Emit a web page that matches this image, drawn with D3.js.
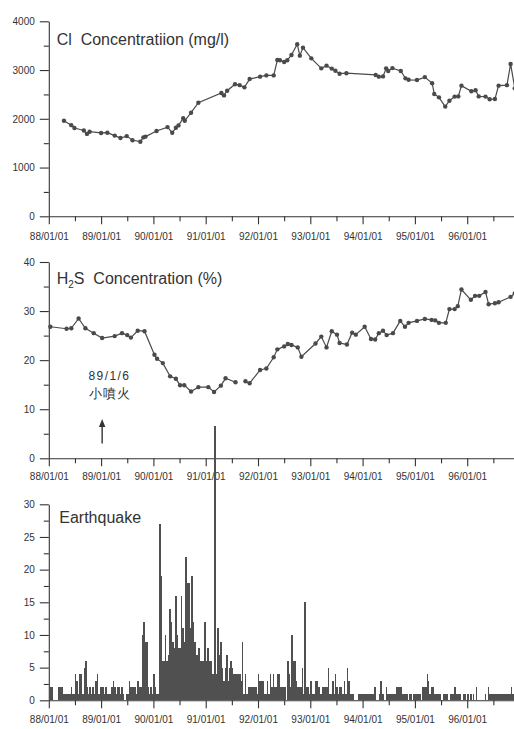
<!DOCTYPE html>
<html><head><meta charset="utf-8">
<script src="https://cdn.jsdelivr.net/npm/d3@7"></script>
<style>
body{margin:0;background:#fff}
svg{display:block}
text{font-family:"Liberation Sans",Arial,sans-serif}
</style>
</head><body>
<svg id="chart" width="514" height="729"></svg>
<script>
// ---------- data ----------
const xTickYears  = [1988,1989,1990,1991,1992,1993,1994,1995,1996];
const xTickLabels = ["88/01/01","89/01/01","90/01/01","91/01/01","92/01/01","93/01/01","94/01/01","95/01/01","96/01/01"];
const xMinorYears = [1988.5,1989.5,1990.5,1991.5,1992.5,1993.5,1994.5,1995.5,1996.5];

const clTicks  = [0,1000,2000,3000,4000];
const clMinor  = [500,1500,2500,3500];
const h2sTicks = [0,10,20,30,40];
const h2sMinor = [5,15,25,35];
const eqTicks  = [0,5,10,15,20,25,30];
const eqMinor  = [2.5,7.5,12.5,17.5,22.5,27.5];

const clYear = [1988.29,1988.43,1988.49,1988.67,1988.73,1988.78,1989.00,1989.12,1989.26,1989.37,1989.49,1989.60,1989.75,1989.81,1989.85,
  1990.06,1990.27,1990.36,1990.43,1990.48,1990.57,1990.60,1990.72,1990.86,1991.30,1991.35,1991.41,1991.56,1991.65,1991.74,1991.84,
  1992.04,1992.16,1992.30,1992.37,1992.42,1992.50,1992.56,1992.64,1992.75,1992.80,1992.86,1993.02,1993.21,1993.31,1993.41,1993.48,1993.56,1993.69,
  1994.25,1994.31,1994.39,1994.45,1994.49,1994.57,1994.73,1994.82,1994.88,1995.04,1995.19,1995.33,1995.37,1995.46,1995.58,1995.66,1995.76,1995.83,1995.89,
  1996.08,1996.16,1996.22,1996.35,1996.43,1996.53,1996.60,1996.76,1996.83,1996.91];
const clValue = [1960,1870,1810,1760,1690,1735,1710,1715,1655,1605,1645,1560,1530,1620,1635,
  1750,1830,1715,1815,1865,2010,1960,2125,2330,2530,2480,2575,2710,2690,2645,2815,
  2865,2890,2890,3205,3200,3165,3200,3310,3530,3295,3460,3240,3035,3090,3030,2985,2925,2935,
  2900,2865,2870,3035,2980,3040,2980,2830,2800,2795,2855,2730,2510,2440,2250,2370,2455,2460,2680,
  2565,2585,2460,2455,2400,2405,2680,2690,3125,2625];

const h2sYear = [1988.03,1988.34,1988.43,1988.57,1988.70,1988.86,1989.02,1989.26,1989.40,1989.50,1989.57,1989.70,1989.83,
  1990.02,1990.07,1990.18,1990.32,1990.43,1990.51,1990.59,1990.72,1990.86,1991.05,1991.16,1991.29,1991.38,1991.57,1991.66,1991.76,1991.84,
  1992.04,1992.16,1992.30,1992.37,1992.50,1992.57,1992.64,1992.76,1992.83,1993.10,1993.21,1993.31,1993.41,1993.51,1993.56,1993.70,1993.80,1993.87,
  1994.04,1994.16,1994.24,1994.31,1994.39,1994.46,1994.58,1994.72,1994.81,1994.88,1995.04,1995.19,1995.32,1995.39,1995.46,1995.59,1995.66,1995.76,1995.82,1995.89,
  1996.07,1996.15,1996.23,1996.35,1996.41,1996.53,1996.60,1996.83,1996.91];
const h2sValue = [26.8,26.4,26.5,28.5,26.5,25.5,24.5,24.9,25.5,25.1,24.6,26.0,25.9,
  21.1,20.3,19.4,16.7,16.2,14.9,14.9,13.6,14.5,14.5,13.5,14.8,16.3,15.5,null,15.7,15.3,
  18.0,18.3,20.6,22.2,22.8,23.3,23.1,22.6,20.7,23.4,24.8,22.6,25.9,25.2,23.5,23.2,25.6,25.2,
  26.8,24.3,24.2,25.5,26.0,25.1,25.5,28.0,26.8,27.6,28.0,28.4,28.2,28.1,27.6,27.6,30.4,30.4,31.0,34.4,
  32.3,33.1,33.1,33.9,31.4,31.6,31.8,32.9,33.6];

// earthquake counts, 36 bins (about 10 days) per year
const eqYears = [1988,1989,1990,1991,1992,1993,1994,1995,1996];
const eq1988 = [3,2,2,0,0,0,2,2,2,2,1,1,1,1,1,2,1,1,4,3,1,4,4,1,5,6,2,1,2,1,2,1,3,4,1,2];
const eq1989 = [2,2,1,2,1,1,1,2,3,2,1,2,2,1,2,1,0,1,1,3,2,2,2,2,1,3,2,2,10,12,9,9,2,1,2,1];
const eq1990 = [4,2,1,1,27,19,6,6,10,6,7,14,12,9,8,16,10,8,8,16,11,9,22,18,18,11,19,12,9,7,7,8,6,6,6,12];
const eq1991 = [6,8,6,6,4,4,42,4,11,7,9,5,3,5,7,3,5,6,5,4,4,4,4,4,3,9,1,4,1,2,2,2,2,2,2,1];
const eq1992 = [4,3,3,3,1,1,3,1,4,2,4,2,2,4,4,2,2,2,2,0,6,4,2,10,6,6,3,2,2,2,5,1,15,2,2,1];
const eq1993 = [3,1,1,3,3,2,2,1,2,2,2,2,5,1,1,3,1,4,2,1,2,2,1,3,1,5,3,1,1,1,0,0,0,1,1,1];
const eq1994 = [1,1,1,1,1,1,1,1,2,0,0,1,3,1,1,0,2,1,1,1,1,1,1,2,2,2,2,1,1,1,1,0,1,1,0,1];
const eq1995 = [1,1,1,1,0,2,2,2,4,3,1,2,2,1,1,1,1,1,0,1,1,1,1,0,1,1,1,2,1,1,1,1,0,1,1,0];
const eq1996 = [1,0,1,0,1,0,2,0,0,0,0,0,1,0,2,1,1,1,1,1,1,1,1,1,1,1,1,1,1,1,2,1,1,1,1,1];
const eqByYear = [eq1988,eq1989,eq1990,eq1991,eq1992,eq1993,eq1994,eq1995,eq1996];

// ---------- drawing ----------
const svg = d3.select("#chart");
const ink = "#333";
const markColor = "#4a4a4a";
const fontFam = '"Liberation Sans", Arial, sans-serif';

const x = d3.scaleLinear().domain([1988, 1997]).range([48.8, 48.8 + 9 * 52.3]);

const yCl  = d3.scaleLinear().domain([0, 4000]).range([216.3, 21.3]);
const yH2s = d3.scaleLinear().domain([0, 40]).range([458.3, 262]);
const yEq  = d3.scaleLinear().domain([0, 30]).range([700.3, 504.3]);

function styleAxis(g){
  g.attr("color", ink).attr("font-family", fontFam).attr("font-size", 10);
  g.selectAll("path,line").attr("stroke-width", 1.1);
  g.selectAll("text").attr("fill", ink);
}

function drawAxes(y, ticks, minor, labelPad){
  const base = y.range()[0];
  const gx = svg.append("g").attr("transform", `translate(0,${base})`)
    .call(d3.axisBottom(x).tickValues(xTickYears).tickFormat((d,i)=>xTickLabels[i])
      .tickSize(8).tickPadding(labelPad).tickSizeOuter(0));
  styleAxis(gx);
  const gxm = svg.append("g").attr("transform", `translate(0,${base})`)
    .call(d3.axisBottom(x).tickValues(xMinorYears).tickFormat("").tickSize(5));
  gxm.select(".domain").remove();
  styleAxis(gxm);
  const gy = svg.append("g").attr("transform", `translate(${x(1988)},0)`)
    .call(d3.axisLeft(y).tickValues(ticks).tickFormat(d3.format("d"))
      .tickSize(9).tickPadding(5).tickSizeOuter(0));
  styleAxis(gy);
  const gym = svg.append("g").attr("transform", `translate(${x(1988)},0)`)
    .call(d3.axisLeft(y).tickValues(minor).tickFormat("").tickSize(5));
  gym.select(".domain").remove();
  styleAxis(gym);
}

drawAxes(yCl, clTicks, clMinor, 9);
drawAxes(yH2s, h2sTicks, h2sMinor, 7);
drawAxes(yEq, eqTicks, eqMinor, 8);

// titles
function title(yScale, v, yr){
  return svg.append("text").attr("x", x(yr)).attr("y", yScale(v))
    .attr("font-size", 16).attr("fill", ink)
    .attr("xml:space", "preserve").style("white-space", "pre");
}
title(yCl, 3515, 1988.15).text("Cl  Concentratiion (mg/l)");
const t2 = title(yH2s, 35.6, 1988.15);
t2.append("tspan").text("H");
t2.append("tspan").attr("font-size", 10).attr("dy", 4).text("2");
t2.append("tspan").attr("dy", -4).text("S  Concentration (%)");
title(yEq, 27.2, 1988.2).text("Earthquake");

// Cl series
const clData = clYear.map((d,i)=>({t:d, v:clValue[i]}));
svg.append("path").datum(clData)
  .attr("fill","none").attr("stroke",markColor).attr("stroke-width",1.2)
  .attr("d", d3.line().x(d=>x(d.t)).y(d=>yCl(d.v)));
svg.append("g").selectAll("circle").data(clData).join("circle")
  .attr("cx", d=>x(d.t)).attr("cy", d=>yCl(d.v)).attr("r", 2.2).attr("fill", markColor);

// H2S series
const h2sData = h2sYear.map((d,i)=>({t:d, v:h2sValue[i]}));
svg.append("path").datum(h2sData)
  .attr("fill","none").attr("stroke",markColor).attr("stroke-width",1.2)
  .attr("d", d3.line().defined(d=>d.v!==null).x(d=>x(d.t)).y(d=>yH2s(d.v)));
svg.append("g").selectAll("circle").data(h2sData.filter(d=>d.v!==null)).join("circle")
  .attr("cx", d=>x(d.t)).attr("cy", d=>yH2s(d.v)).attr("r", 2.2).attr("fill", markColor);

// annotation
svg.append("text").attr("x", x(1988.76)).attr("y", yH2s(15.9))
  .attr("font-size", 12).attr("letter-spacing", 1.4).attr("fill", ink).text("89/1/6");
svg.append("text").attr("x", x(1988.76)).attr("y", yH2s(12.3))
  .attr("font-size", 12.5).attr("letter-spacing", 1.2).attr("fill", ink)
  .attr("font-family", '"Noto Sans CJK TC","Noto Sans CJK SC",sans-serif').text("小噴火");
const ax = x(1989.02);
svg.append("line").attr("x1", ax).attr("x2", ax).attr("y1", yH2s(3.0)).attr("y2", yH2s(6.6))
  .attr("stroke", ink).attr("stroke-width", 1.4);
svg.append("path")
  .attr("d", d3.line()([[ax-3.2, yH2s(6.4)], [ax+3.2, yH2s(6.4)], [ax, yH2s(8.0)]]) + "Z")
  .attr("fill", ink);

// earthquake bars
const eqData = [];
eqByYear.forEach((arr, yi) => arr.forEach((v, i) => {
  eqData.push({t0: eqYears[yi] + i/36, t1: eqYears[yi] + (i+1)/36, v});
}));
svg.append("g").attr("shape-rendering", "crispEdges")
  .selectAll("rect").data(eqData.filter(d=>d.v>0)).join("rect")
  .attr("x", d=>x(d.t0)).attr("width", d=>x(d.t1)-x(d.t0)+0.02)
  .attr("y", d=>yEq(d.v)).attr("height", d=>yEq(0)-yEq(d.v))
  .attr("fill", "#505050");
</script>
</body></html>
